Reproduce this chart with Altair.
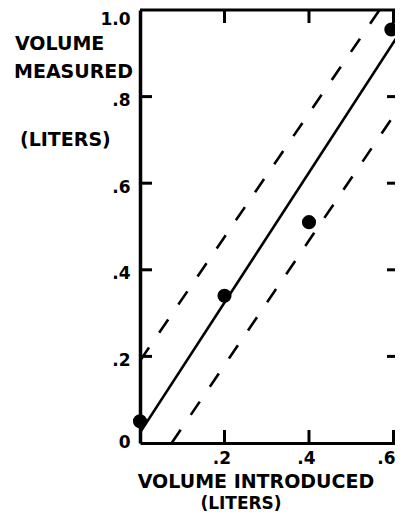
import altair as alt
import pandas as pd

# ---- data ----
VOL_INTRODUCED = [0.0, 0.2, 0.4, 0.595]
VOL_MEASURED = [0.05, 0.34, 0.51, 0.955]

FIT_X = [0.0, 0.62]
FIT_Y = [0.024, 0.955]
UPPER_X = [0.0, 0.567]
UPPER_Y = [0.19, 1.0]
LOWER_X = [0.075, 0.62]
LOWER_Y = [0.0, 0.784]

X_TICKS = [0.2, 0.4, 0.6]
X_TICK_LABELS = [".2", ".4", ".6"]
Y_TICKS = [0.0, 0.2, 0.4, 0.6, 0.8, 1.0]
Y_TICK_LABELS = ["0", ".2", ".4", ".6", ".8", "1.0"]
Y_INNER_TICKS = [0.2, 0.4, 0.6, 0.8]

Y_TITLE = ["VOLUME", "MEASURED", "(LITERS)"]
X_TITLE = ["VOLUME INTRODUCED", "(LITERS)"]

W, H = 255, 433
FONT = "DejaVu Sans"

xscale = alt.Scale(domain=[0, 0.6036], nice=False, zero=False)
yscale = alt.Scale(domain=[0, 1.0], nice=False, zero=False)

xlab = "[" + ",".join("'%s'" % s for s in X_TICK_LABELS) + "]"
ylab = "[" + ",".join("'%s'" % s for s in Y_TICK_LABELS) + "]"

xaxis = alt.Axis(
    values=X_TICKS, labelExpr=xlab + "[round(datum.value*5)-1]",
    ticks=False, domain=True, domainColor="black", domainWidth=3,
    labelFont=FONT, labelFontWeight="bold", labelFontSize=17, labelColor="black",
    labelPadding=7, labelFlush=False, grid=False, title=None,
    labelAlign={"condition": {"test": "datum.value > 0.5", "value": "right"}, "value": "center"},
    labelOffset={"condition": {"test": "datum.value > 0.5", "value": 1.5}, "value": -3},
)
yaxis = alt.Axis(
    values=Y_TICKS, labelExpr=ylab + "[round(datum.value*5)]",
    ticks=False, domain=True, domainColor="black", domainWidth=3.5,
    labelFont=FONT, labelFontWeight="bold", labelFontSize=17, labelColor="black",
    labelPadding=10, labelFlush=False, grid=False, title=None,
    labelOffset={"condition": [{"test": "datum.value == 1", "value": 9},
                               {"test": "datum.value == 0", "value": -1}],
                 "value": 4},
)


def ex(f):
    return alt.X(f, type="quantitative", scale=xscale, axis=xaxis)


def ey(f):
    return alt.Y(f, type="quantitative", scale=yscale, axis=yaxis)


pts = pd.DataFrame({"x": VOL_INTRODUCED, "y": VOL_MEASURED})
fit = pd.DataFrame({"x": FIT_X, "y": FIT_Y})
upper = pd.DataFrame({"x": UPPER_X, "y": UPPER_Y})
lower = pd.DataFrame({"x": LOWER_X, "y": LOWER_Y})

line_style = dict(color="black", strokeWidth=2.6, clip=True)
fit_line = alt.Chart(fit).mark_line(**line_style).encode(x=ex("x"), y=ey("y"))
up_line = alt.Chart(upper).mark_line(strokeDash=[16, 18], **line_style).encode(x=ex("x"), y=ey("y"))
lo_line = alt.Chart(lower).mark_line(strokeDash=[16, 18], **line_style).encode(x=ex("x"), y=ey("y"))
points = alt.Chart(pts).mark_circle(color="black", opacity=1, size=200).encode(x=ex("x"), y=ey("y"))

ytk = pd.DataFrame({"v": Y_INNER_TICKS})
xtk = pd.DataFrame({"v": X_TICKS})
tick_style = dict(color="black", strokeWidth=3)
left_ticks = alt.Chart(ytk).mark_rule(**tick_style).encode(y=ey("v"), x=alt.value(0), x2=alt.value(12))
right_ticks = alt.Chart(ytk).mark_rule(**tick_style).encode(y=ey("v"), x=alt.value(W - 8), x2=alt.value(W))
top_ticks = alt.Chart(xtk).mark_rule(**tick_style).encode(x=ex("v"), y=alt.value(0), y2=alt.value(13))
bottom_ticks = alt.Chart(xtk).mark_rule(**tick_style).encode(x=ex("v"), y=alt.value(H - 13), y2=alt.value(H))
top_border = alt.Chart(pd.DataFrame({"v": [0]})).mark_rule(color="black", strokeWidth=3).encode(
    x=alt.value(0), x2=alt.value(W), y=alt.value(0))

tstyle = dict(font=FONT, fontWeight="bold", color="black", baseline="middle")


def label(text, x, y, align, size):
    return alt.Chart(pd.DataFrame({"t": [text]})).mark_text(align=align, fontSize=size, **tstyle).encode(
        text="t", x=alt.value(x), y=alt.value(y))


titles = [
    label(Y_TITLE[0], -125, 34, "left", 19),
    label(Y_TITLE[1], -126, 62, "left", 19),
    label(Y_TITLE[2], -120, 130, "left", 19),
    label(X_TITLE[0], 116, 472, "center", 19),
    label(X_TITLE[1], 101, 494, "center", 17),
]

chart = alt.layer(
    top_border, left_ticks, right_ticks, top_ticks, bottom_ticks,
    fit_line, up_line, lo_line, points, *titles,
).properties(
    width=W, height=H,
    autosize=alt.AutoSizeParams(type="none"),
    padding={"left": 132, "top": 2, "right": 0, "bottom": 71},
    background="white",
).configure_view(stroke=None)

chart.save("out.html", embed_options={"renderer": "svg", "actions": False})
